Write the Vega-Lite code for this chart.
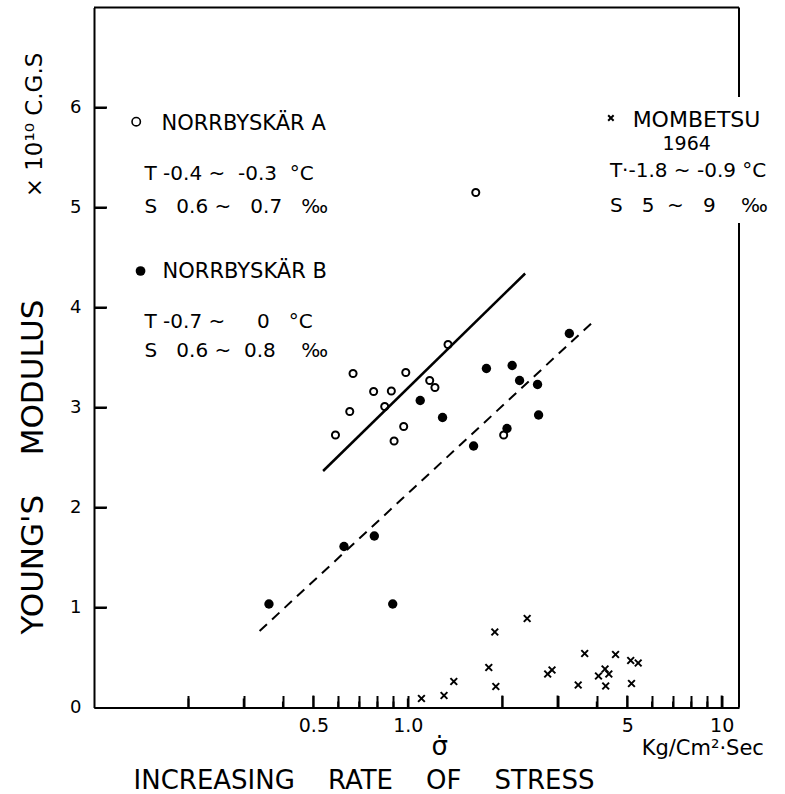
{
  "$schema": "https://vega.github.io/schema/vega-lite/v6.json",
  "width": 645,
  "height": 700,
  "autosize": {"type": "none"},
  "padding": {"left": 94, "top": 7.5, "right": 46, "bottom": 86.5},
  "background": "white",
  "config": {
    "view": {"stroke": null},
    "axis": {"grid": false, "domainColor": "black", "tickColor": "black", "labelColor": "black", "titleColor": "black", "labelFont": "DejaVu Sans", "titleFont": "DejaVu Sans", "titleFontWeight": "normal"},
    "text": {"font": "DejaVu Sans", "fill": "black"}
  },
  "datasets": {
    "points": [
      {"site": "NORRBYSKÄR A", "rate": 0.588, "modulus": 2.725},
      {"site": "NORRBYSKÄR A", "rate": 0.653, "modulus": 2.96},
      {"site": "NORRBYSKÄR A", "rate": 0.669, "modulus": 3.34},
      {"site": "NORRBYSKÄR A", "rate": 0.778, "modulus": 3.16},
      {"site": "NORRBYSKÄR A", "rate": 0.844, "modulus": 3.01},
      {"site": "NORRBYSKÄR A", "rate": 0.886, "modulus": 3.165},
      {"site": "NORRBYSKÄR A", "rate": 0.904, "modulus": 2.665},
      {"site": "NORRBYSKÄR A", "rate": 0.97, "modulus": 2.81},
      {"site": "NORRBYSKÄR A", "rate": 0.985, "modulus": 3.35},
      {"site": "NORRBYSKÄR A", "rate": 1.174, "modulus": 3.27},
      {"site": "NORRBYSKÄR A", "rate": 1.22, "modulus": 3.2},
      {"site": "NORRBYSKÄR A", "rate": 1.343, "modulus": 3.63},
      {"site": "NORRBYSKÄR A", "rate": 1.646, "modulus": 5.15},
      {"site": "NORRBYSKÄR A", "rate": 2.02, "modulus": 2.725},
      {"site": "NORRBYSKÄR B", "rate": 0.361, "modulus": 1.035},
      {"site": "NORRBYSKÄR B", "rate": 0.626, "modulus": 1.61},
      {"site": "NORRBYSKÄR B", "rate": 0.782, "modulus": 1.715},
      {"site": "NORRBYSKÄR B", "rate": 0.895, "modulus": 1.035},
      {"site": "NORRBYSKÄR B", "rate": 1.095, "modulus": 3.07},
      {"site": "NORRBYSKÄR B", "rate": 1.29, "modulus": 2.9},
      {"site": "NORRBYSKÄR B", "rate": 1.62, "modulus": 2.615},
      {"site": "NORRBYSKÄR B", "rate": 1.78, "modulus": 3.39},
      {"site": "NORRBYSKÄR B", "rate": 2.07, "modulus": 2.79},
      {"site": "NORRBYSKÄR B", "rate": 2.15, "modulus": 3.42},
      {"site": "NORRBYSKÄR B", "rate": 2.27, "modulus": 3.27},
      {"site": "NORRBYSKÄR B", "rate": 2.59, "modulus": 3.23},
      {"site": "NORRBYSKÄR B", "rate": 2.61, "modulus": 2.925},
      {"site": "NORRBYSKÄR B", "rate": 3.27, "modulus": 3.74},
      {"site": "MOMBETSU 1964", "rate": 1.105, "modulus": 0.09},
      {"site": "MOMBETSU 1964", "rate": 1.304, "modulus": 0.12},
      {"site": "MOMBETSU 1964", "rate": 1.401, "modulus": 0.26},
      {"site": "MOMBETSU 1964", "rate": 1.811, "modulus": 0.4},
      {"site": "MOMBETSU 1964", "rate": 1.893, "modulus": 0.755},
      {"site": "MOMBETSU 1964", "rate": 1.907, "modulus": 0.21},
      {"site": "MOMBETSU 1964", "rate": 2.4, "modulus": 0.89},
      {"site": "MOMBETSU 1964", "rate": 2.79, "modulus": 0.335},
      {"site": "MOMBETSU 1964", "rate": 2.88, "modulus": 0.375},
      {"site": "MOMBETSU 1964", "rate": 3.49, "modulus": 0.225},
      {"site": "MOMBETSU 1964", "rate": 3.66, "modulus": 0.54},
      {"site": "MOMBETSU 1964", "rate": 4.05, "modulus": 0.315},
      {"site": "MOMBETSU 1964", "rate": 4.25, "modulus": 0.385},
      {"site": "MOMBETSU 1964", "rate": 4.37, "modulus": 0.335},
      {"site": "MOMBETSU 1964", "rate": 4.27, "modulus": 0.215},
      {"site": "MOMBETSU 1964", "rate": 4.59, "modulus": 0.53},
      {"site": "MOMBETSU 1964", "rate": 5.13, "modulus": 0.47},
      {"site": "MOMBETSU 1964", "rate": 5.42, "modulus": 0.445},
      {"site": "MOMBETSU 1964", "rate": 5.16, "modulus": 0.24}
    ],
    "fits": [
      {"fit": "A", "rate": 0.537, "modulus": 2.365},
      {"fit": "A", "rate": 2.365, "modulus": 4.34},
      {"fit": "B", "rate": 0.337, "modulus": 0.765},
      {"fit": "B", "rate": 3.9, "modulus": 3.86}
    ],
    "xticks": [
      {"tick": 0.2}, {"tick": 0.3}, {"tick": 0.4}, {"tick": 0.5}, {"tick": 0.6}, {"tick": 0.7}, {"tick": 0.8}, {"tick": 0.9},
      {"tick": 1}, {"tick": 2}, {"tick": 3}, {"tick": 4}, {"tick": 5}, {"tick": 6}, {"tick": 7}, {"tick": 8}, {"tick": 9}, {"tick": 10}
    ],
    "one": [{}]
  },
  "layer": [
    {
      "data": {"name": "points"},
      "transform": [{"filter": "datum.site == 'NORRBYSKÄR A'"}],
      "mark": {"type": "point", "shape": "circle", "filled": false, "stroke": "black", "strokeWidth": 2, "size": 50, "opacity": 1},
      "encoding": {
        "x": {
          "field": "rate", "type": "quantitative",
          "scale": {"type": "log", "domain": [0.1, 11.355], "nice": false},
          "axis": {
            "title": "INCREASING\u00a0\u00a0\u00a0 RATE\u00a0\u00a0\u00a0 OF\u00a0\u00a0\u00a0 STRESS",
            "titleFontSize": 26, "titleX": 269.5, "titleY": 80.5, "titleAlign": "center", "titleBaseline": "alphabetic",
            "values": [0.2, 0.3, 0.4, 0.5, 0.6, 0.7, 0.8, 0.9, 1, 2, 3, 4, 5, 6, 7, 8, 9, 10],
            "labelExpr": "datum.value == 0.5 ? '0.5' : datum.value == 1 ? '1.0' : datum.value == 5 ? '5' : datum.value == 10 ? '10' : ''",
            "labelFontSize": 19, "labelPadding": 20.5, "labelOverlap": false, "labelFlush": false,
            "tickSize": -12, "tickWidth": 2, "domainWidth": 2
          }
        },
        "y": {
          "field": "modulus", "type": "quantitative",
          "scale": {"domain": [0, 7], "nice": false, "zero": false},
          "axis": {
            "title": "YOUNG'S\u00a0\u00a0\u00a0 MODULUS",
            "titleFontSize": 31, "titleX": -51.3, "titleY": 459, "titleAngle": 270, "titleAlign": "center", "titleBaseline": "alphabetic",
            "values": [0, 1, 2, 3, 4, 5, 6], "format": "d",
            "labelFontSize": 18, "labelPadding": 25, "labelBaseline": "middle",
            "tickSize": -12, "tickWidth": 2, "domainWidth": 2
          }
        }
      }
    },
    {
      "data": {"name": "xticks"},
      "transform": [{"filter": "indexof([0.5, 2, 3, 5, 10], datum.tick) >= 0"}],
      "mark": {"type": "rule", "color": "black", "strokeWidth": 2},
      "encoding": {
        "x": {"field": "tick", "type": "quantitative"},
        "y": {"datum": 0, "type": "quantitative"},
        "y2": {"datum": 0.12}
      }
    },
    {
      "data": {"name": "xticks"},
      "transform": [{"filter": "indexof([0.2, 0.3, 1], datum.tick) >= 0"}],
      "mark": {"type": "rule", "color": "black", "strokeWidth": 2},
      "encoding": {
        "x": {"field": "tick", "type": "quantitative"},
        "y": {"datum": 0, "type": "quantitative"},
        "y2": {"datum": 0.09}
      }
    },
    {
      "data": {"name": "xticks"},
      "transform": [{"filter": "indexof([0.5, 2, 3, 5, 10, 0.2, 0.3, 1], datum.tick) < 0"}],
      "mark": {"type": "rule", "color": "black", "strokeWidth": 2},
      "encoding": {
        "x": {"field": "tick", "type": "quantitative"},
        "y": {"datum": 0, "type": "quantitative"},
        "y2": {"datum": 0.06}
      }
    },
    {"data": {"name": "one"}, "mark": {"type": "rule", "color": "black", "strokeWidth": 2}, "encoding": {"x": {"datum": 0.1, "type": "quantitative"}, "x2": {"datum": 0.11}, "y": {"datum": 1, "type": "quantitative"}}},
    {"data": {"name": "one"}, "mark": {"type": "rule", "color": "black", "strokeWidth": 2}, "encoding": {"x": {"datum": 0.1, "type": "quantitative"}, "x2": {"datum": 0.11}, "y": {"datum": 2, "type": "quantitative"}}},
    {"data": {"name": "one"}, "mark": {"type": "rule", "color": "black", "strokeWidth": 2}, "encoding": {"x": {"datum": 0.1, "type": "quantitative"}, "x2": {"datum": 0.11}, "y": {"datum": 3, "type": "quantitative"}}},
    {"data": {"name": "one"}, "mark": {"type": "rule", "color": "black", "strokeWidth": 2}, "encoding": {"x": {"datum": 0.1, "type": "quantitative"}, "x2": {"datum": 0.11}, "y": {"datum": 4, "type": "quantitative"}}},
    {"data": {"name": "one"}, "mark": {"type": "rule", "color": "black", "strokeWidth": 2}, "encoding": {"x": {"datum": 0.1, "type": "quantitative"}, "x2": {"datum": 0.11}, "y": {"datum": 5, "type": "quantitative"}}},
    {"data": {"name": "one"}, "mark": {"type": "rule", "color": "black", "strokeWidth": 2}, "encoding": {"x": {"datum": 0.1, "type": "quantitative"}, "x2": {"datum": 0.11}, "y": {"datum": 6, "type": "quantitative"}}},
    {
      "data": {"name": "points"},
      "transform": [{"filter": "datum.site == 'NORRBYSKÄR B'"}],
      "mark": {"type": "point", "shape": "circle", "filled": true, "fill": "black", "size": 88, "opacity": 1},
      "encoding": {
        "x": {"field": "rate", "type": "quantitative"},
        "y": {"field": "modulus", "type": "quantitative"}
      }
    },
    {
      "data": {"name": "points"},
      "transform": [{"filter": "datum.site == 'MOMBETSU 1964'"}],
      "mark": {"type": "point", "shape": "M-1,-1L1,1M1,-1L-1,1", "filled": false, "stroke": "black", "strokeWidth": 2, "size": 45, "opacity": 1},
      "encoding": {
        "x": {"field": "rate", "type": "quantitative"},
        "y": {"field": "modulus", "type": "quantitative"}
      }
    },
    {
      "data": {"name": "fits"},
      "transform": [{"filter": "datum.fit == 'A'"}],
      "mark": {"type": "line", "color": "black", "strokeWidth": 2.5},
      "encoding": {
        "x": {"field": "rate", "type": "quantitative"},
        "y": {"field": "modulus", "type": "quantitative"}
      }
    },
    {
      "data": {"name": "fits"},
      "transform": [{"filter": "datum.fit == 'B'"}],
      "mark": {"type": "line", "color": "black", "strokeWidth": 2, "strokeDash": [10, 7]},
      "encoding": {
        "x": {"field": "rate", "type": "quantitative"},
        "y": {"field": "modulus", "type": "quantitative"}
      }
    },
    {
      "data": {"name": "one"},
      "mark": {"type": "rule", "color": "black", "strokeWidth": 2},
      "encoding": {
        "x": {"datum": 0.1, "type": "quantitative"},
        "x2": {"datum": 11.355},
        "y": {"datum": 7, "type": "quantitative"}
      }
    },
    {
      "data": {"name": "one"},
      "mark": {"type": "rule", "color": "black", "strokeWidth": 2},
      "encoding": {
        "x": {"datum": 11.355, "type": "quantitative"},
        "y": {"datum": 7, "type": "quantitative"},
        "y2": {"datum": 6.105}
      }
    },
    {
      "data": {"name": "one"},
      "mark": {"type": "rule", "color": "black", "strokeWidth": 2},
      "encoding": {
        "x": {"datum": 11.355, "type": "quantitative"},
        "y": {"datum": 4.845, "type": "quantitative"},
        "y2": {"datum": 0}
      }
    },
    {
      "data": {"name": "one"},
      "mark": {"type": "point", "shape": "circle", "filled": false, "stroke": "black", "strokeWidth": 1.6, "size": 70, "opacity": 1},
      "encoding": {
        "x": {"datum": 0.1363, "type": "quantitative"},
        "y": {"datum": 5.858, "type": "quantitative"}
      }
    },
    {
      "data": {"name": "one"},
      "mark": {"type": "point", "shape": "circle", "filled": true, "fill": "black", "size": 95, "opacity": 1},
      "encoding": {
        "x": {"datum": 0.1407, "type": "quantitative"},
        "y": {"datum": 4.365, "type": "quantitative"}
      }
    },
    {
      "data": {"name": "one"},
      "mark": {"type": "point", "shape": "M-1,-1L1,1M1,-1L-1,1", "filled": false, "stroke": "black", "strokeWidth": 2, "size": 30, "opacity": 1},
      "encoding": {
        "x": {"datum": 4.436, "type": "quantitative"},
        "y": {"datum": 5.895, "type": "quantitative"}
      }
    },
    {
      "data": {"name": "one"},
      "mark": {"type": "text", "text": "NORRBYSKÄR A", "align": "left", "baseline": "alphabetic", "fontSize": 21},
      "encoding": {"x": {"datum": 0.1641, "type": "quantitative"}, "y": {"datum": 5.775, "type": "quantitative"}}
    },
    {
      "data": {"name": "one"},
      "mark": {"type": "text", "text": "T -0.4 ~\u00a0 -0.3\u00a0 °C", "align": "left", "baseline": "alphabetic", "fontSize": 20},
      "encoding": {"x": {"datum": 0.1449, "type": "quantitative"}, "y": {"datum": 5.275, "type": "quantitative"}}
    },
    {
      "data": {"name": "one"},
      "mark": {"type": "text", "text": "S\u00a0\u00a0 0.6 ~\u00a0\u00a0 0.7\u00a0\u00a0 ‰", "align": "left", "baseline": "alphabetic", "fontSize": 20},
      "encoding": {"x": {"datum": 0.1449, "type": "quantitative"}, "y": {"datum": 4.945, "type": "quantitative"}}
    },
    {
      "data": {"name": "one"},
      "mark": {"type": "text", "text": "NORRBYSKÄR B", "align": "left", "baseline": "alphabetic", "fontSize": 21},
      "encoding": {"x": {"datum": 0.1654, "type": "quantitative"}, "y": {"datum": 4.295, "type": "quantitative"}}
    },
    {
      "data": {"name": "one"},
      "mark": {"type": "text", "text": "T -0.7 ~\u00a0\u00a0\u00a0\u00a0 0\u00a0\u00a0 °C", "align": "left", "baseline": "alphabetic", "fontSize": 20},
      "encoding": {"x": {"datum": 0.1449, "type": "quantitative"}, "y": {"datum": 3.795, "type": "quantitative"}}
    },
    {
      "data": {"name": "one"},
      "mark": {"type": "text", "text": "S\u00a0\u00a0 0.6 ~\u00a0 0.8\u00a0\u00a0\u00a0 ‰", "align": "left", "baseline": "alphabetic", "fontSize": 20},
      "encoding": {"x": {"datum": 0.1449, "type": "quantitative"}, "y": {"datum": 3.505, "type": "quantitative"}}
    },
    {
      "data": {"name": "one"},
      "mark": {"type": "text", "text": "MOMBETSU", "align": "left", "baseline": "alphabetic", "fontSize": 22},
      "encoding": {"x": {"datum": 5.203, "type": "quantitative"}, "y": {"datum": 5.805, "type": "quantitative"}}
    },
    {
      "data": {"name": "one"},
      "mark": {"type": "text", "text": "1964", "align": "center", "baseline": "alphabetic", "fontSize": 19},
      "encoding": {"x": {"datum": 7.734, "type": "quantitative"}, "y": {"datum": 5.575, "type": "quantitative"}}
    },
    {
      "data": {"name": "one"},
      "mark": {"type": "text", "text": "T·-1.8 ~ -0.9 °C", "align": "left", "baseline": "alphabetic", "fontSize": 20},
      "encoding": {"x": {"datum": 4.404, "type": "quantitative"}, "y": {"datum": 5.305, "type": "quantitative"}}
    },
    {
      "data": {"name": "one"},
      "mark": {"type": "text", "text": "S\u00a0\u00a0 5\u00a0 ~\u00a0\u00a0 9\u00a0\u00a0\u00a0 ‰", "align": "left", "baseline": "alphabetic", "fontSize": 20},
      "encoding": {"x": {"datum": 4.404, "type": "quantitative"}, "y": {"datum": 4.955, "type": "quantitative"}}
    },
    {
      "data": {"name": "one"},
      "mark": {"type": "text", "text": "× 10¹⁰ C.G.S", "align": "center", "baseline": "alphabetic", "angle": 270, "fontSize": 23},
      "encoding": {"x": {"datum": 0.0683, "type": "quantitative"}, "y": {"datum": 5.825, "type": "quantitative"}}
    },
    {
      "data": {"name": "one"},
      "mark": {"type": "text", "text": "σ̇", "align": "center", "baseline": "alphabetic", "fontSize": 26},
      "encoding": {"x": {"datum": 1.264, "type": "quantitative"}, "y": {"datum": -0.475, "type": "quantitative"}}
    },
    {
      "data": {"name": "one"},
      "mark": {"type": "text", "text": "Kg/Cm²·Sec", "align": "left", "baseline": "alphabetic", "fontSize": 21},
      "encoding": {"x": {"datum": 5.56, "type": "quantitative"}, "y": {"datum": -0.475, "type": "quantitative"}}
    }
  ]
}
